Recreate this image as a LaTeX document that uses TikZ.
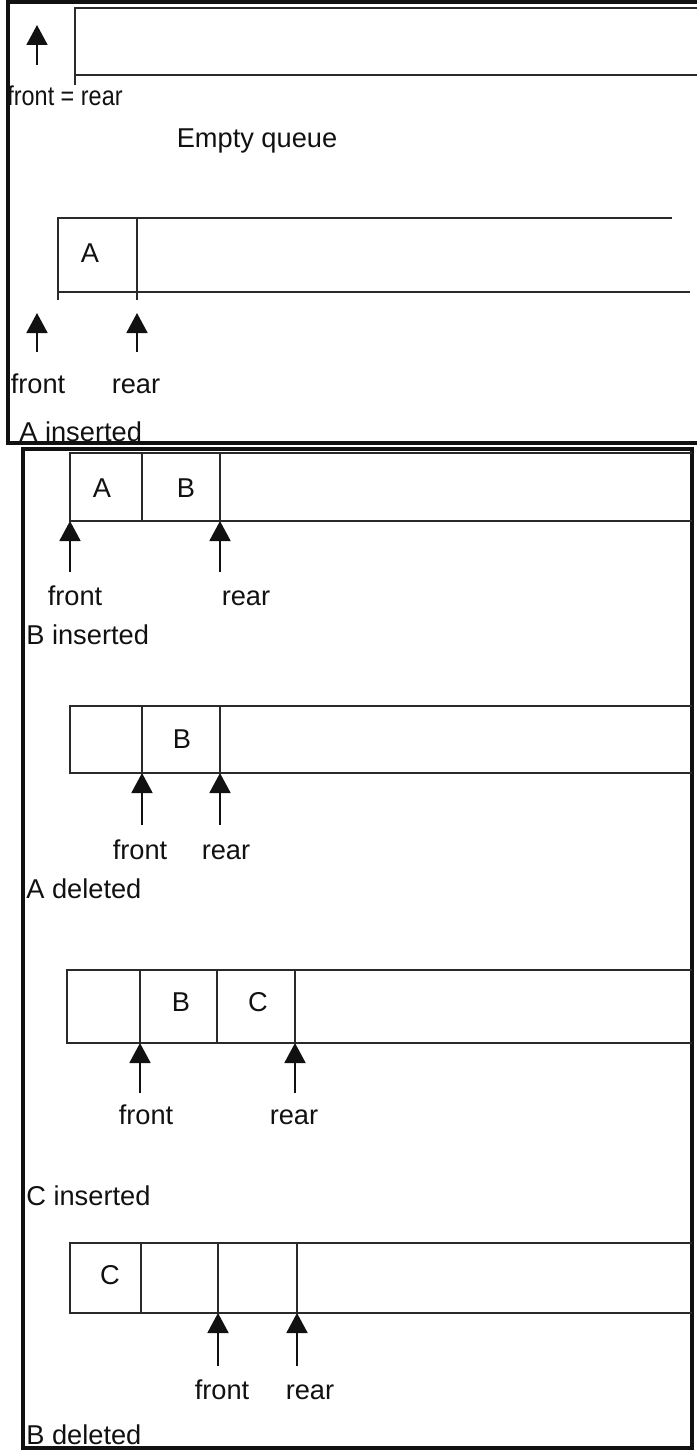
\documentclass[tikz,border=0pt]{standalone}
\usepackage{graphicx}
\usepackage{fontspec}
\setmainfont{Liberation Sans}
\usetikzlibrary{arrows.meta,positioning}
\definecolor{Ink}{HTML}{111111}
\definecolor{Cell}{HTML}{2A2A2A}
\tikzset{
  frame/.style={line width=1.8pt, draw=Ink},
  cellline/.style={line width=1.4pt, draw=Cell},
  pointer/.style={-{Triangle[length=0.4cm,width=0.42cm]}, line width=1.1pt, draw=Ink},
  lbl/.style={inner sep=0pt, font=\fontsize{15.5}{18}\selectfont, text=Ink,
    text height=11pt, text depth=3pt},
  caption/.style={lbl, anchor=west},
  item/.style={lbl}
}

\begin{document}
\begin{tikzpicture}[x=0.02cm, y=-0.02cm]
  \useasboundingbox (0,0) rectangle (697,1450);

  % two frames
  \draw[frame] (697,2) -- (8,2) -- (8,443) -- (697,443);
  \draw[frame] (23,449) rectangle (692,1448);

  % empty queue
  \draw[cellline] (697,8) -- (75,8) -- (75,85) (75,75) -- (697,75);
  \coordinate (e0) at (37,25);
  \node[lbl] (eq) at (65,98) {\scalebox{0.86}[1]{front = rear}};
  \node[lbl] (empty) at (257,140) {Empty queue};
  \draw[pointer] ([yshift=-0.8cm]e0) -- (e0);

  % A inserted
  \draw[cellline] (672,218) -- (58,218) -- (58,300) (58,292) -- (690,292)
    (137,218) -- (137,300);
  \node[item] (a1A) at (90,255) {A};
  \coordinate (a1f) at (37,313);
  \coordinate (a1r) at (137,313);
  \draw[pointer] ([yshift=-0.78cm]a1f) -- (a1f);
  \draw[pointer] ([yshift=-0.78cm]a1r) -- (a1r);
  \node[lbl] (a1front) at (38,386) {front};
  \node[lbl] (a1rear) at (136,386) {rear};
  \node[caption] (a1cap) at (19,434) {A inserted};

  % B inserted
  \draw[cellline] (692,453) -- (70,453) -- (70,521) -- (692,521)
    (142,453) -- (142,521) (220,453) -- (220,521);
  \node[item] (b1A) at (102,490) {A};
  \node[item] (b1B) at (186,490) {B};
  \coordinate (b1f) at (70,521);
  \coordinate (b1r) at (220,521);
  \draw[pointer] ([yshift=-1.02cm]b1f) -- (b1f);
  \draw[pointer] ([yshift=-1.02cm]b1r) -- (b1r);
  \node[lbl] (b1front) at (75,598) {front};
  \node[lbl] (b1rear) at (246,598) {rear};
  \node[caption] (b1cap) at (26,637) {B inserted};

  % A deleted
  \draw[cellline] (692,706) -- (70,706) -- (70,773) -- (692,773)
    (142,706) -- (142,773) (220,706) -- (220,773);
  \node[item] (a2B) at (182,741) {B};
  \coordinate (a2f) at (142,773);
  \coordinate (a2r) at (220,773);
  \draw[pointer] ([yshift=-1.04cm]a2f) -- (a2f);
  \draw[pointer] ([yshift=-1.04cm]a2r) -- (a2r);
  \node[lbl] (a2front) at (140,852) {front};
  \node[lbl] (a2rear) at (226,852) {rear};
  \node[caption] (a2cap) at (26,891) {A deleted};

  % C inserted
  \draw[cellline] (692,970) -- (67,970) -- (67,1043) -- (692,1043)
    (140,970) -- (140,1043) (217,970) -- (217,1043) (295,970) -- (295,1043);
  \node[item] (c1B) at (181,1004) {B};
  \node[item] (c1C) at (258,1004) {C};
  \coordinate (c1f) at (140,1043);
  \coordinate (c1r) at (295,1043);
  \draw[pointer] ([yshift=-1cm]c1f) -- (c1f);
  \draw[pointer] ([yshift=-1cm]c1r) -- (c1r);
  \node[lbl] (c1front) at (146,1117) {front};
  \node[lbl] (c1rear) at (294,1117) {rear};
  \node[caption] (c1cap) at (26,1198) {C inserted};

  % B deleted
  \draw[cellline] (692,1243) -- (70,1243) -- (70,1313) -- (692,1313)
    (141,1243) -- (141,1313) (218,1243) -- (218,1313) (297,1243) -- (297,1313);
  \node[item] (b2C) at (110,1277) {C};
  \coordinate (b2f) at (218,1313);
  \coordinate (b2r) at (297,1313);
  \draw[pointer] ([yshift=-1.06cm]b2f) -- (b2f);
  \draw[pointer] ([yshift=-1.06cm]b2r) -- (b2r);
  \node[lbl] (b2front) at (222,1392) {front};
  \node[lbl] (b2rear) at (310,1392) {rear};
  \node[caption] (b2cap) at (26,1437) {B deleted};
\end{tikzpicture}
\end{document}
